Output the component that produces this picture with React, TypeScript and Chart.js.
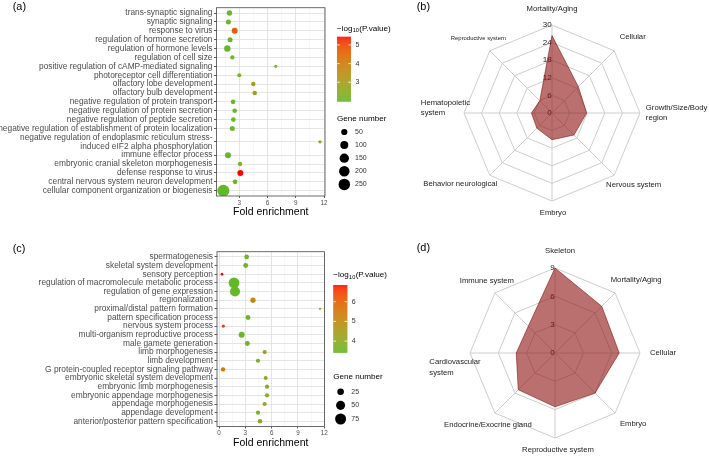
import React, { useEffect, useRef } from 'react';
import { Chart, registerables } from 'chart.js';

Chart.register(...registerables);

const FONT = "'Liberation Sans', Arial, Helvetica, sans-serif";

/* ---------------- (a) enrichment terms ---------------- */
const termsA: (string | string[])[] = [
  'trans-synaptic signaling',
  'synaptic signaling',
  'response to virus',
  'regulation of hormone secretion',
  'regulation of hormone levels',
  'regulation of cell size',
  'positive regulation of cAMP-mediated signaling',
  'photoreceptor cell differentiation',
  'olfactory lobe development',
  'olfactory bulb development',
  'negative regulation of protein transport',
  'negative regulation of protein secretion',
  'negative regulation of peptide secretion',
  'negative regulation of establishment of protein localization',
  ['negative regulation of endoplasmic reticulum stress-', 'induced eIF2 alpha phosphorylation'],
  'immune effector process',
  'embryonic cranial skeleton morphogenesis',
  'defense response to virus',
  'central nervous system neuron development',
  'cellular component organization or biogenesis',
];
const foldA = [1.95, 1.84, 2.51, 2.02, 1.73, 2.26, 6.87, 3.0, 4.49, 4.64, 2.34, 2.51, 2.37, 2.26, 11.57, 1.8, 3.08, 3.11, 2.55, 1.31];
const logPA = [2.05, 2.05, 4.6, 2.1, 2.0, 2.1, 2.2, 2.25, 3.0, 2.9, 2.1, 2.1, 2.05, 2.05, 2.4, 2.0, 2.2, 5.44, 2.1, 1.96];
const genesA = [31, 25, 44, 25, 55, 15, 3, 11, 17, 17, 20, 20, 20, 25, 5, 44, 15, 44, 20, 278];
const colorTicksA = [3, 4, 5];
const sizeBreaksA = [50, 100, 150, 200, 250];

/* ---------------- (c) enrichment terms ---------------- */
const termsC: (string | string[])[] = [
  'spermatogenesis',
  'skeletal system development',
  'sensory perception',
  'regulation of macromolecule metabolic process',
  'regulation of gene expression',
  'regionalization',
  'proximal/distal pattern formation',
  'pattern specification process',
  'nervous system process',
  'multi-organism reproductive process',
  'male gamete generation',
  'limb morphogenesis',
  'limb development',
  'G protein-coupled receptor signaling pathway',
  'embryonic skeletal system development',
  'embryonic limb morphogenesis',
  'embryonic appendage morphogenesis',
  'appendage morphogenesis',
  'appendage development',
  'anterior/posterior pattern specification',
];
const foldC = [3.15, 3.04, 0.34, 1.71, 1.82, 3.87, 11.51, 3.3, 0.49, 2.58, 3.23, 5.2, 4.44, 0.46, 5.32, 5.47, 5.47, 5.2, 4.44, 4.67];
const logPC = [3.6, 3.6, 6.85, 3.41, 3.45, 5.1, 3.9, 3.7, 6.6, 3.5, 3.6, 4.1, 3.6, 5.5, 3.8, 3.8, 3.8, 4.1, 3.6, 3.8];
const genesC = [12, 13, 3, 72, 62, 15, 2, 13, 5, 20, 13, 9, 9, 10, 8, 9, 9, 9, 9, 11];
const colorTicksC = [4, 5, 6];
const sizeBreaksC = [25, 50, 75];

/* ---------------- (b) radar ---------------- */
const axesB: (string | string[])[] = [
  'Mortality/Aging',
  'Cellular',
  ['Growth/Size/Body', 'region'],
  'Nervous system',
  'Embryo',
  'Behavior neurological',
  ['Hematopoietic', 'system'],
  'Reproductive system',
];
const valuesB = [26.4, 12.7, 11.8, 10.6, 9.1, 7.3, 7.0, 5.9];
const maxB = 30;
const stepB = 6;

/* ---------------- (d) radar ---------------- */
const axesD: (string | string[])[] = [
  'Skeleton',
  'Mortality/Aging',
  'Cellular',
  'Embryo',
  'Reproductive system',
  'Endocrine/Exocrine gland',
  ['Cardiovascular', 'system'],
  'Immune system',
];
const valuesD = [9, 7, 6.8, 6, 5.7, 5.5, 4.1, 4.0];
const maxD = 9;
const stepD = 3;

/* ---------------- colour gradient (Lab interpolation, like ggplot) ---------------- */
const LOW_RGB = [98, 185, 40];
const HIGH_RGB = [255, 0, 0];
function toLin(c: number) {
  const s = c / 255;
  return s <= 0.04045 ? s / 12.92 : Math.pow((s + 0.055) / 1.055, 2.4);
}
function fromLin(c: number) {
  const v = c <= 0.0031308 ? 12.92 * c : 1.055 * Math.pow(Math.max(c, 0), 1 / 2.4) - 0.055;
  return Math.round(Math.min(1, Math.max(0, v)) * 255);
}
function rgb2lab(rgb: number[]) {
  const [r, g, b] = rgb.map(toLin);
  const X = (0.4124 * r + 0.3576 * g + 0.1805 * b) / 0.95047;
  const Y = 0.2126 * r + 0.7152 * g + 0.0722 * b;
  const Z = (0.0193 * r + 0.1192 * g + 0.9505 * b) / 1.08883;
  const f = (t: number) => (t > 0.008856 ? Math.cbrt(t) : 7.787 * t + 16 / 116);
  return [116 * f(Y) - 16, 500 * (f(X) - f(Y)), 200 * (f(Y) - f(Z))];
}
function lab2rgb(lab: number[]) {
  const [L, a, b] = lab;
  const fy = (L + 16) / 116;
  const fx = fy + a / 500;
  const fz = fy - b / 200;
  const inv = (t: number) => (t * t * t > 0.008856 ? t * t * t : (t - 16 / 116) / 7.787);
  const X = 0.95047 * inv(fx);
  const Y = inv(fy);
  const Z = 1.08883 * inv(fz);
  const r = 3.2406 * X - 1.5372 * Y - 0.4986 * Z;
  const g = -0.9689 * X + 1.8758 * Y + 0.0415 * Z;
  const bb = 0.0557 * X - 0.204 * Y + 1.057 * Z;
  return [fromLin(r), fromLin(g), fromLin(bb)];
}
const LAB_LO = rgb2lab(LOW_RGB);
const LAB_HI = rgb2lab(HIGH_RGB);
function gradColor(v: number, lo: number, hi: number) {
  const t = Math.min(1, Math.max(0, (v - lo) / (hi - lo)));
  const lab = LAB_LO.map((c, i) => c + (LAB_HI[i] - c) * t);
  const [r, g, b] = lab2rgb(lab);
  return `rgb(${r},${g},${b})`;
}

/* ---------------- dot plot builder ---------------- */
type DotLayout = {
  w: number; h: number;
  plotLeft: number; plotRight: number; plotTop: number; plotBottom: number;
  xMin: number; xMax: number; titlePad: number;
  panel: string; panelY: number;
  legX: number; colTitleY: number; barTop: number; barBottom: number;
  sizeTitleY: number; sizeY0: number; sizeDy: number;
  radius: (n: number) => number;
};

function rowPositions(terms: (string | string[])[]) {
  const out: number[] = [];
  let p = 0;
  terms.forEach((t, i) => {
    if (i > 0) {
      const wide = Array.isArray(t) || Array.isArray(terms[i - 1]);
      p += wide ? 1.5 : 1;
    }
    out.push(p);
  });
  return out;
}

function dotConfig(
  terms: (string | string[])[],
  fold: number[],
  logp: number[],
  genes: number[],
  colorTicks: number[],
  sizeBreaks: number[],
  L: DotLayout
): any {
  const pos = rowPositions(terms);
  const lastPos = pos[pos.length - 1];
  const labelAt = new Map<number, string | string[]>();
  pos.forEach((p, i) => labelAt.set(p, terms[i]));
  const lo = Math.min(...logp);
  const hi = Math.max(...logp);
  const gridX: number[] = [];
  for (let k = Math.ceil(L.xMin / 1.5 - 1e-9); k * 1.5 <= L.xMax + 1e-9; k++) gridX.push(k * 1.5);
  const isMajor = (v: number) => Math.abs(v / 3 - Math.round(v / 3)) < 1e-6;

  const legendPlugin = {
    id: 'dotLegend',
    afterDatasetsDraw(chart: any) {
      const { ctx, chartArea: a } = chart;
      ctx.save();
      ctx.strokeStyle = '#5a5a5a';
      ctx.lineWidth = 0.9;
      ctx.strokeRect(a.left, a.top, a.right - a.left, a.bottom - a.top);
      ctx.restore();
    },
    afterDraw(chart: any) {
      const ctx = chart.ctx;
      ctx.save();
      ctx.textBaseline = 'middle';
      ctx.textAlign = 'left';
      ctx.fillStyle = '#000';
      ctx.font = `10.9px ${FONT}`;
      ctx.fillText(L.panel, 12.7, L.panelY);

      const X0 = L.legX;
      ctx.font = `8.1px ${FONT}`;
      ctx.fillText('\u2212log', X0, L.colTitleY);
      const w1 = ctx.measureText('\u2212log').width;
      ctx.font = `5.6px ${FONT}`;
      ctx.fillText('10', X0 + w1 + 0.2, L.colTitleY + 2.4);
      const w2 = ctx.measureText('10').width;
      ctx.font = `8.1px ${FONT}`;
      ctx.fillText('(P.value)', X0 + w1 + w2 + 0.6, L.colTitleY);

      const bw = 14;
      const bt = L.barTop;
      const bb = L.barBottom;
      for (let yy = bt; yy < bb; yy += 0.5) {
        const v = hi - ((yy + 0.25 - bt) / (bb - bt)) * (hi - lo);
        ctx.fillStyle = gradColor(v, lo, hi);
        ctx.fillRect(X0, yy, bw, Math.min(0.75, bb - yy));
      }
      ctx.strokeStyle = '#fff';
      ctx.lineWidth = 0.8;
      ctx.font = `7px ${FONT}`;
      colorTicks.forEach((t) => {
        const yy = bt + ((hi - t) / (hi - lo)) * (bb - bt);
        ctx.beginPath();
        ctx.moveTo(X0, yy);
        ctx.lineTo(X0 + 2.8, yy);
        ctx.moveTo(X0 + bw - 2.8, yy);
        ctx.lineTo(X0 + bw, yy);
        ctx.stroke();
        ctx.fillStyle = '#333';
        ctx.fillText(String(t), X0 + bw + 4.5, yy);
      });

      ctx.fillStyle = '#000';
      ctx.font = `8.1px ${FONT}`;
      ctx.fillText('Gene number', X0, L.sizeTitleY);
      sizeBreaks.forEach((n, k) => {
        const cy = L.sizeY0 + k * L.sizeDy;
        ctx.fillStyle = '#000';
        ctx.beginPath();
        ctx.arc(X0 + 7.3, cy, L.radius(n), 0, Math.PI * 2);
        ctx.fill();
        ctx.fillStyle = '#333';
        ctx.font = `7px ${FONT}`;
        ctx.fillText(String(n), X0 + 18, cy);
      });
      ctx.restore();
    },
  };

  return {
    type: 'bubble',
    data: {
      datasets: [
        {
          data: pos.map((p, i) => ({ x: fold[i], y: p, r: L.radius(genes[i]) })),
          backgroundColor: logp.map((v) => gradColor(v, lo, hi)),
          borderWidth: 0,
          hoverBorderWidth: 0,
        },
      ],
    },
    options: {
      animation: false,
      responsive: false,
      maintainAspectRatio: false,
      events: [],
      layout: { padding: { left: 0, right: L.w - L.plotRight, top: L.plotTop, bottom: 0 } },
      plugins: { legend: { display: false }, tooltip: { enabled: false } },
      scales: {
        x: {
          type: 'linear',
          min: L.xMin,
          max: L.xMax,
          bounds: 'data',
          afterBuildTicks: (s: any) => {
            s.ticks = gridX.map((v) => ({ value: v }));
          },
          afterFit: (s: any) => {
            s.height = L.h - L.plotBottom;
          },
          ticks: {
            autoSkip: false,
            maxRotation: 0,
            padding: 1,
            color: '#4d4d4d',
            font: { family: FONT, size: 6.3 },
            callback: (v: any) => (isMajor(Number(v)) ? String(Math.round(Number(v))) : ''),
          },
          grid: {
            color: (c: any) => (c.tick && isMajor(c.tick.value) ? '#e2e2e2' : '#efefef'),
            lineWidth: (c: any) => (c.tick && isMajor(c.tick.value) ? 0.9 : 0.5),
            tickColor: (c: any) => (c.tick && isMajor(c.tick.value) ? '#333' : 'rgba(0,0,0,0)'),
            tickLength: 2,
            tickWidth: 0.8,
          },
          border: { display: false },
          title: {
            display: true,
            text: 'Fold enrichment',
            color: '#000',
            font: { family: FONT, size: 10.5 },
            padding: { top: 0, bottom: L.titlePad },
          },
        },
        y: {
          type: 'linear',
          reverse: true,
          min: -0.6,
          max: lastPos + 0.6,
          bounds: 'data',
          afterBuildTicks: (s: any) => {
            s.ticks = pos.map((v) => ({ value: v }));
          },
          afterFit: (s: any) => {
            s.width = L.plotLeft;
          },
          ticks: {
            autoSkip: false,
            padding: 1.5,
            color: '#4d4d4d',
            font: { family: FONT, size: 8.35, lineHeight: 1.08 },
            callback: (v: any) => labelAt.get(Number(v)) ?? '',
          },
          grid: { color: '#e2e2e2', lineWidth: 0.9, tickColor: '#333', tickLength: 2.5, tickWidth: 0.8 },
          border: { display: false },
        },
      },
    },
    plugins: [legendPlugin],
  };
}

/* ---------------- radar builder ---------------- */
type RadarLayout = {
  padding: { left: number; right: number; top: number; bottom: number };
  panel: string;
  panelY: number;
  labelSizes: number[];
  nudges: number[][];
  lineHeight: number;
};

const RADAR_FILL = 'rgba(145,25,25,0.62)';
const RADAR_EDGE = 'rgba(130,20,20,0.75)';

function radarConfig(axes: (string | string[])[], values: number[], max: number, step: number, L: RadarLayout): any {
  const tickPlugin = {
    id: 'radarTicks',
    beforeDatasetsDraw(chart: any) {
      const sc = chart.scales.r;
      const ctx = chart.ctx;
      ctx.save();
      ctx.font = `8px ${FONT}`;
      ctx.fillStyle = '#222';
      ctx.textAlign = 'right';
      ctx.textBaseline = 'middle';
      sc.ticks.forEach((t: any) => {
        const d = sc.getDistanceFromCenterForValue(t.value);
        ctx.fillText(String(t.value), sc.xCenter - 0.3, sc.yCenter - d);
      });
      ctx.restore();
    },
  };
  const labelPlugin = {
    id: 'radarLabels',
    afterDraw(chart: any) {
      const sc = chart.scales.r;
      const ctx = chart.ctx;
      ctx.save();
      ctx.textBaseline = 'middle';
      ctx.fillStyle = '#000';
      ctx.textAlign = 'left';
      ctx.font = `10.9px ${FONT}`;
      ctx.fillText(L.panel, 16.7, L.panelY);
      ctx.fillStyle = '#1a1a1a';
      axes.forEach((lab, i) => {
        const p = sc.getPointPosition(i, sc.drawingArea * 1.2);
        const x = p.x + L.nudges[i][0];
        const y = p.y + L.nudges[i][1];
        ctx.font = `${L.labelSizes[i]}px ${FONT}`;
        if (Array.isArray(lab)) {
          const mw = Math.max(...lab.map((s) => ctx.measureText(s).width));
          ctx.textAlign = 'left';
          lab.forEach((s, k) => {
            ctx.fillText(s, x - mw / 2, y + (k - (lab.length - 1) / 2) * L.lineHeight);
          });
        } else {
          ctx.textAlign = 'center';
          ctx.fillText(lab, x, y);
        }
      });
      ctx.restore();
    },
  };
  return {
    type: 'radar',
    data: {
      labels: axes.map((a) => (Array.isArray(a) ? a.join(' ') : a)),
      datasets: [
        {
          data: values,
          backgroundColor: RADAR_FILL,
          borderColor: RADAR_EDGE,
          borderWidth: 0.8,
          pointRadius: 0,
          pointHoverRadius: 0,
          fill: true,
          tension: 0,
        },
      ],
    },
    options: {
      animation: false,
      responsive: false,
      maintainAspectRatio: false,
      events: [],
      layout: { padding: L.padding },
      plugins: { legend: { display: false }, tooltip: { enabled: false } },
      scales: {
        r: {
          min: 0,
          max,
          ticks: { stepSize: step, display: false },
          grid: { color: '#cdcdcd', lineWidth: 1 },
          angleLines: { color: '#cdcdcd', lineWidth: 1 },
          pointLabels: { display: false },
        },
      },
    },
    plugins: [tickPlugin, labelPlugin],
  };
}

/* ---------------- layouts (styling only) ---------------- */
const layoutA: DotLayout = {
  w: 400, h: 225, plotLeft: 216.5, plotRight: 325, plotTop: 7.7, plotBottom: 196,
  xMin: 0.58, xMax: 12.1, titlePad: 7, panel: '(a)', panelY: 6.7,
  legX: 337, colTitleY: 28.3, barTop: 36.7, barBottom: 101.7,
  sizeTitleY: 118.7, sizeY0: 132, sizeDy: 13.1,
  radius: (n) => 1 + 0.3 * Math.sqrt(n),
};
const layoutC: DotLayout = {
  w: 400, h: 232, plotLeft: 217, plotRight: 324.5, plotTop: 21.7, plotBottom: 196.5,
  xMin: -0.23, xMax: 12.02, titlePad: 12.4, panel: '(c)', panelY: 19,
  legX: 333.3, colTitleY: 45, barTop: 55, barBottom: 122.7,
  sizeTitleY: 146.7, sizeY0: 161.7, sizeDy: 13.65,
  radius: (n) => 0.3 + 0.6 * Math.sqrt(n),
};
const layoutB: RadarLayout = {
  padding: { left: 64, right: 69, top: 25, bottom: 29 },
  panel: '(b)', panelY: 6.7,
  labelSizes: [7.7, 7.7, 7.7, 7.7, 7.7, 7.7, 7.7, 5.9],
  nudges: [[0, 1.5], [6, -1], [19, 0], [7, -3], [1, -6], [-17, -4], [-1, -5], [1, 0]],
  lineHeight: 9.5,
};
const layoutD: RadarLayout = {
  padding: { left: 70, right: 69, top: 38, bottom: 24 },
  panel: '(d)', panelY: 18.3,
  labelSizes: [7.7, 7.7, 7.7, 7.7, 7.7, 7.7, 7.7, 7.7],
  nudges: [[5, 0], [9, -1], [6, 0], [6, -1], [3, -5], [5, 0], [2, 14.5], [4, 0]],
  lineHeight: 10.4,
};

function ChartBox({ x, y, w, h, make }: { x: number; y: number; w: number; h: number; make: () => any }) {
  const ref = useRef<HTMLCanvasElement | null>(null);
  useEffect(() => {
    if (!ref.current) return;
    const chart = new Chart(ref.current, make());
    return () => chart.destroy();
  }, []);
  return (
    <canvas
      ref={ref}
      width={w}
      height={h}
      style={{ position: 'absolute', left: x, top: y, width: w, height: h }}
    />
  );
}

export default function App() {
  return (
    <div style={{ position: 'absolute', left: 0, top: 0, width: 709, height: 462, background: '#fff', overflow: 'hidden' }}>
      <ChartBox x={0} y={0} w={400} h={225} make={() => dotConfig(termsA, foldA, logPA, genesA, colorTicksA, sizeBreaksA, layoutA)} />
      <ChartBox x={0} y={230} w={400} h={232} make={() => dotConfig(termsC, foldC, logPC, genesC, colorTicksC, sizeBreaksC, layoutC)} />
      <ChartBox x={400} y={0} w={309} h={230} make={() => radarConfig(axesB, valuesB, maxB, stepB, layoutB)} />
      <ChartBox x={400} y={230} w={309} h={232} make={() => radarConfig(axesD, valuesD, maxD, stepD, layoutD)} />
    </div>
  );
}
